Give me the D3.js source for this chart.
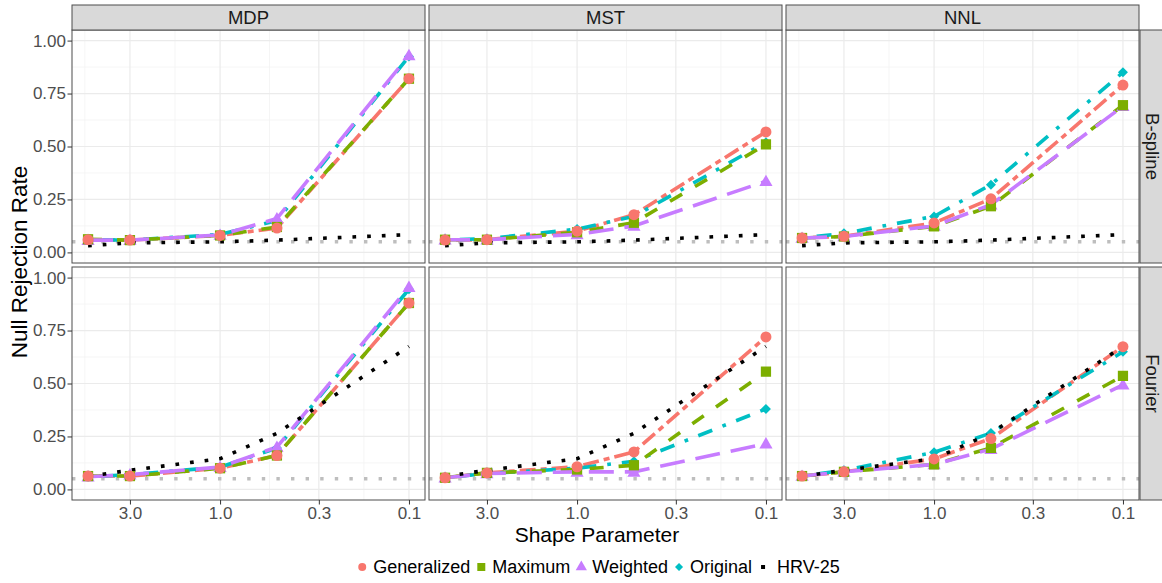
<!DOCTYPE html>
<html>
<head>
<meta charset="utf-8">
<script src="https://d3js.org/d3.v7.min.js"></script>
<style>
  body { margin: 0; background: #fff; }
  text { font-family: "Liberation Sans", Arial, sans-serif; }
</style>
</head>
<body>
<svg class="chart"></svg>
<script>
// ---- data ----
var shapeParams = [5, 3, 1, 0.5, 0.1];
var methods = ["MDP", "MST", "NNL"];
var bases = ["B-spline", "Fourier"];
var tests = ["Generalized", "Maximum", "Weighted", "Original", "HRV-25"];
var xTicks = [3, 1, 0.3, 0.1];
var yTicks = [0, 0.25, 0.5, 0.75, 1];
var nominalLevel = 0.05;

// one array per test, one row per panel (B-spline then Fourier; MDP, MST, NNL)
var generalized = {
  "B-spline": { MDP: [0.060, 0.058, 0.080, 0.115, 0.820], MST: [0.058, 0.060, 0.100, 0.178, 0.569], NNL: [0.068, 0.076, 0.139, 0.253, 0.790] },
  "Fourier":  { MDP: [0.063, 0.063, 0.100, 0.160, 0.880], MST: [0.055, 0.078, 0.107, 0.177, 0.720], NNL: [0.063, 0.083, 0.144, 0.240, 0.674] }
};
var maximum = {
  "B-spline": { MDP: [0.062, 0.058, 0.080, 0.120, 0.820], MST: [0.060, 0.060, 0.095, 0.140, 0.510], NNL: [0.068, 0.075, 0.123, 0.218, 0.695] },
  "Fourier":  { MDP: [0.063, 0.063, 0.100, 0.160, 0.880], MST: [0.055, 0.078, 0.094, 0.114, 0.556], NNL: [0.063, 0.083, 0.118, 0.196, 0.536] }
};
var weighted = {
  "B-spline": { MDP: [0.058, 0.058, 0.082, 0.160, 0.930], MST: [0.060, 0.060, 0.085, 0.125, 0.336], NNL: [0.068, 0.075, 0.125, 0.225, 0.690] },
  "Fourier":  { MDP: [0.060, 0.070, 0.105, 0.200, 0.955], MST: [0.055, 0.075, 0.083, 0.083, 0.216], NNL: [0.063, 0.083, 0.118, 0.190, 0.494] }
};
var original = {
  "B-spline": { MDP: [0.060, 0.058, 0.085, 0.150, 0.925], MST: [0.058, 0.065, 0.110, 0.170, 0.520], NNL: [0.068, 0.090, 0.170, 0.320, 0.850] },
  "Fourier":  { MDP: [0.060, 0.070, 0.105, 0.195, 0.945], MST: [0.055, 0.075, 0.100, 0.133, 0.380], NNL: [0.063, 0.090, 0.175, 0.266, 0.650] }
};
var hrv25 = {
  "B-spline": { MDP: [0.032, 0.045, 0.050, 0.058, 0.084], MST: [0.032, 0.045, 0.050, 0.058, 0.084], NNL: [0.032, 0.045, 0.050, 0.058, 0.084] },
  "Fourier":  { MDP: [0.062, 0.090, 0.145, 0.265, 0.675], MST: [0.062, 0.090, 0.145, 0.265, 0.675], NNL: [0.062, 0.090, 0.145, 0.265, 0.675] }
};

var seriesValues = { "Generalized": generalized, "Maximum": maximum, "Weighted": weighted, "Original": original, "HRV-25": hrv25 };

// ---- styling ----
var colors = { "Generalized": "#F8766D", "Maximum": "#7CAE00", "Weighted": "#C77CFF", "Original": "#00BFC4", "HRV-25": "#000000" };
var dashes = { "Generalized": "6,5,16,5", "Maximum": "14,15", "Weighted": "25,11", "Original": "3.7,11,15,11", "HRV-25": "3.7,11" };
var symbols = { "Generalized": d3.symbolCircle, "Maximum": d3.symbolSquare, "Weighted": d3.symbolTriangle, "Original": d3.symbolSquare };
var symSize = { "Generalized": 95, "Maximum": 105, "Weighted": 75, "Original": 50 };
var symRotate = { "Generalized": 0, "Maximum": 0, "Weighted": 0, "Original": 45 };

var svgWidth = 1162, svgHeight = 583;
var left = 72, top0 = 30, panelW = 353, panelH = 233, gap = 4, stripH = 25, stripW = 25;

var svg = d3.select(".chart").attr("width", svgWidth).attr("height", svgHeight);

var logPad = 0.05 * (Math.log10(d3.max(shapeParams)) - Math.log10(d3.min(shapeParams)));
var xDomain = [d3.max(shapeParams) * Math.pow(10, logPad), d3.min(shapeParams) / Math.pow(10, logPad)];

// minor breaks: midpoints between ticks in log space, plus one beyond the first tick
var logTicks = xTicks.map(Math.log10);
var xMinor = [];
for (var i = 0; i < logTicks.length - 1; i++) xMinor.push(Math.pow(10, (logTicks[i] + logTicks[i + 1]) / 2));
xMinor.push(Math.pow(10, logTicks[0] + (logTicks[0] - logTicks[1]) / 2));
var yMinor = [0.125, 0.375, 0.625, 0.875];

var lineOrder = ["Generalized", "Original", "Maximum", "Weighted", "HRV-25"];
var pointOrder = ["Original", "Weighted", "Maximum", "Generalized"];

bases.forEach(function (basis, r) {
  var py = top0 + r * (panelH + gap);
  var yScale = d3.scaleLinear().domain([-0.05, 1.05]).range([py + panelH, py]);

  methods.forEach(function (method, c) {
    var px = left + c * (panelW + gap);
    var xScale = d3.scaleLog().domain(xDomain).range([px, px + panelW]);
    var g = svg.append("g");

    g.append("rect").attr("x", px).attr("y", py).attr("width", panelW).attr("height", panelH).attr("fill", "#fff");

    // grid
    g.selectAll(".xminor").data(xMinor.filter(function (d) { return d < xDomain[0] && d > xDomain[1]; }))
      .enter().append("line").attr("x1", xScale).attr("x2", xScale).attr("y1", py).attr("y2", py + panelH)
      .attr("stroke", "#F2F2F2").attr("stroke-width", 0.8);
    g.selectAll(".yminor").data(yMinor).enter().append("line")
      .attr("x1", px).attr("x2", px + panelW).attr("y1", yScale).attr("y2", yScale)
      .attr("stroke", "#F2F2F2").attr("stroke-width", 0.8);
    g.selectAll(".xmajor").data(xTicks).enter().append("line")
      .attr("x1", xScale).attr("x2", xScale).attr("y1", py).attr("y2", py + panelH)
      .attr("stroke", "#EBEBEB").attr("stroke-width", 1.2);
    g.selectAll(".ymajor").data(yTicks).enter().append("line")
      .attr("x1", px).attr("x2", px + panelW).attr("y1", yScale).attr("y2", yScale)
      .attr("stroke", "#EBEBEB").attr("stroke-width", 1.2);

    // nominal level reference line
    g.append("line").attr("x1", px).attr("x2", px + panelW)
      .attr("y1", yScale(nominalLevel)).attr("y2", yScale(nominalLevel))
      .attr("stroke", "#BEBEBE").attr("stroke-width", 3.4).attr("stroke-dasharray", "3.4,11.2");

    var line = d3.line().x(function (d) { return xScale(d[0]); }).y(function (d) { return yScale(d[1]); });

    lineOrder.forEach(function (t) {
      var vals = seriesValues[t][basis][method];
      g.append("path").datum(shapeParams.map(function (s, k) { return [s, vals[k]]; }))
        .attr("d", line).attr("fill", "none")
        .attr("stroke", colors[t]).attr("stroke-width", 3.6)
        .attr("stroke-dasharray", dashes[t]);
    });

    pointOrder.forEach(function (t) {
      var vals = seriesValues[t][basis][method];
      g.selectAll(".pt-" + t).data(shapeParams.map(function (s, k) { return [s, vals[k]]; }))
        .enter().append("path")
        .attr("d", d3.symbol().type(symbols[t]).size(symSize[t]))
        .attr("transform", function (d) {
          var ty = yScale(d[1]) + (t === "Weighted" ? 1 : 0);
          return "translate(" + xScale(d[0]) + "," + ty + ") rotate(" + symRotate[t] + ")";
        })
        .attr("fill", colors[t]);
    });

    g.append("rect").attr("x", px).attr("y", py).attr("width", panelW).attr("height", panelH)
      .attr("fill", "none").attr("stroke", "#4D4D4D").attr("stroke-width", 1);

    // top strips
    if (r === 0) {
      g.append("rect").attr("x", px).attr("y", py - stripH).attr("width", panelW).attr("height", stripH)
        .attr("fill", "#D9D9D9").attr("stroke", "#4D4D4D").attr("stroke-width", 1);
      g.append("text").attr("x", px + panelW / 2).attr("y", py - stripH / 2).attr("dy", "0.36em")
        .attr("text-anchor", "middle").attr("font-size", 18.5).attr("fill", "#1A1A1A").text(method);
    }
    // right strips
    if (c === methods.length - 1) {
      g.append("rect").attr("x", px + panelW + 1).attr("y", py).attr("width", stripW).attr("height", panelH)
        .attr("fill", "#D9D9D9").attr("stroke", "#4D4D4D").attr("stroke-width", 1);
      g.append("text").attr("transform", "translate(" + (px + panelW + 1 + stripW / 2) + "," + (py + panelH / 2) + ") rotate(90)")
        .attr("dy", "0.36em").attr("text-anchor", "middle").attr("font-size", 18.5).attr("fill", "#1A1A1A").text(basis);
    }
    // axes
    if (c === 0) {
      var yAxis = d3.axisLeft(yScale).tickValues(yTicks).tickFormat(d3.format(".2f")).tickSize(4.5).tickPadding(1.5);
      var ya = svg.append("g").attr("transform", "translate(" + px + ",0)").call(yAxis);
      ya.select(".domain").remove();
      ya.selectAll(".tick line").attr("stroke", "#333");
      ya.selectAll(".tick text").attr("font-size", 17).attr("fill", "#4D4D4D")
        .style("font-family", "'Liberation Sans', Arial, sans-serif");
    }
    if (r === bases.length - 1) {
      var xAxis = d3.axisBottom(xScale).tickValues(xTicks).tickFormat(d3.format(".1f")).tickSize(4.5).tickPadding(2.5);
      var xa = svg.append("g").attr("transform", "translate(0," + (py + panelH) + ")").call(xAxis);
      xa.select(".domain").remove();
      xa.selectAll(".tick line").attr("stroke", "#333");
      xa.selectAll(".tick text").attr("font-size", 17).attr("fill", "#4D4D4D")
        .style("font-family", "'Liberation Sans', Arial, sans-serif");
    }
  });
});

// axis titles
svg.append("text").attr("x", 597).attr("y", 542).attr("text-anchor", "middle")
  .attr("font-size", 21).attr("fill", "#000").text("Shape Parameter");
svg.append("text").attr("transform", "translate(27,262) rotate(-90)").attr("text-anchor", "middle")
  .attr("font-size", 22.5).attr("fill", "#000").text("Null Rejection Rate");

// legend
var legend = svg.append("g");
var legendSym = { "Generalized": 50, "Maximum": 64, "Weighted": 55, "Original": 32 };
var lx = 0;
tests.forEach(function (t) {
  var item = legend.append("g").attr("transform", "translate(" + lx + ",0)");
  if (t === "HRV-25") {
    item.append("rect").attr("x", -2).attr("y", -2).attr("width", 4).attr("height", 4).attr("fill", colors[t]);
  } else {
    item.append("path").attr("d", d3.symbol().type(symbols[t]).size(legendSym[t]))
      .attr("transform", "rotate(" + symRotate[t] + ")").attr("fill", colors[t]);
  }
  var txt = item.append("text").attr("x", t === "HRV-25" ? 14 : 11).attr("y", 0).attr("dy", "0.36em")
    .attr("font-size", 18).attr("fill", "#000").text(t);
  lx += (t === "HRV-25" ? 14 : 11) + txt.node().getComputedTextLength() + 11;
});
var legW = lx - 11;
legend.attr("transform", "translate(" + (597 - legW / 2 + 4) + ",567)");
</script>
</body>
</html>
